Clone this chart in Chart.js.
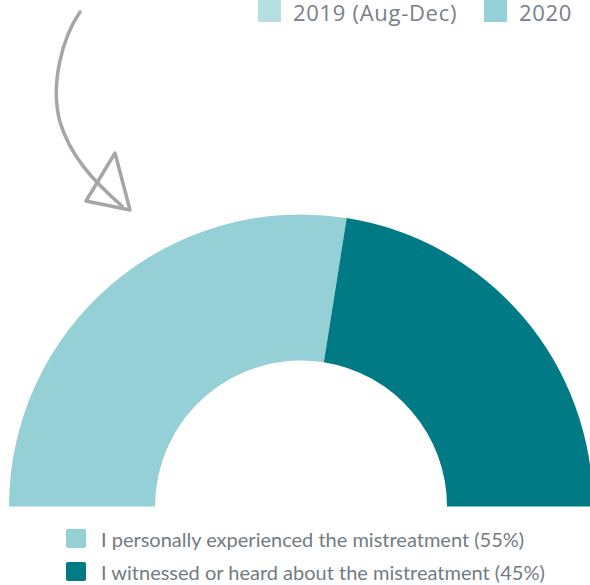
<!DOCTYPE html>
<html lang="en">
<head>
    <meta charset="UTF-8">
    <title>Mistreatment</title>
    <script src="https://cdn.jsdelivr.net/npm/chart.js"></script>
    <style>
        body { margin: 0; width: 590px; height: 585px; overflow: hidden; background: #fff; position: relative; }
        .top-item { position: absolute; top: -1px; font-family: 'Open Sans', sans-serif; font-size: 22px; letter-spacing: 0.7px; color: #7a8088; white-space: nowrap; line-height: 26px; }
        .top-box { position: absolute; top: 0; width: 23px; height: 22px; }
        #arrow { position: absolute; left: 0; top: 0; }
        #wrap { position: absolute; left: 9px; top: 214px; width: 584px; height: 293px; }
        .legend { position: absolute; left: 66px; top: 526px; font-family: Lato, sans-serif; font-size: 20px; color: #737b82; }
        .legend div { height: 33px; line-height: 26px; white-space: nowrap; }
        .legend span.box { display: inline-block; width: 20px; height: 19px; border-radius: 2px; vertical-align: -1px; margin-right: 15px; }
    </style>
</head>
<body>
    <div id="topLegend"></div>

    <svg id="arrow" width="150" height="220">
        <path d="M80,12 C62,38 50,85 60,122 C70,155 92,180 122,206" fill="none" stroke="#a6a6a6" stroke-width="3.5" stroke-linecap="round"/>
        <path d="M115,153 L130,210 L86,201 Z" fill="none" stroke="#a6a6a6" stroke-width="3.5" stroke-linejoin="round"/>
    </svg>

    <div id="wrap"><canvas id="chart"></canvas></div>

    <div class="legend" id="legend"></div>

    <script>
        // Данные
        const labels = ['I personally experienced the mistreatment (55%)', 'I witnessed or heard about the mistreatment (45%)'];
        const values = [55, 45];
        const colors = ['#95d0d6', '#007a85'];

        const yearLabels = ['2019 (Aug-Dec)', '2020'];
        const yearColors = ['#b5e0e2', '#95d0d6'];
        const yearBoxX = [258, 484];

        // Верхняя легенда
        const topLegend = document.getElementById('topLegend');
        yearLabels.forEach((t, i) => {
            const b = document.createElement('div');
            b.className = 'top-box';
            b.style.left = yearBoxX[i] + 'px';
            b.style.background = yearColors[i];
            topLegend.appendChild(b);
            const s = document.createElement('div');
            s.className = 'top-item';
            s.style.left = (yearBoxX[i] + 35) + 'px';
            s.textContent = t;
            topLegend.appendChild(s);
        });

        const chart = new Chart(document.getElementById('chart'), {
            type: 'doughnut',
            data: {
                labels: labels,
                datasets: [{
                    data: values,
                    backgroundColor: colors,
                    borderWidth: 0
                }]
            },
            options: {
                responsive: true,
                maintainAspectRatio: false,
                animation: false,
                rotation: -90,
                circumference: 180,
                cutout: '50%',
                layout: { padding: 0 },
                plugins: {
                    legend: { display: false },
                    tooltip: { enabled: false }
                }
            }
        });

        // Нижняя легенда из данных графика
        const legend = document.getElementById('legend');
        chart.data.labels.forEach((t, i) => {
            const d = document.createElement('div');
            d.innerHTML = '<span class="box" style="background:' + colors[i] + '"></span>' + t;
            legend.appendChild(d);
        });
    </script>
</body>
</html>
